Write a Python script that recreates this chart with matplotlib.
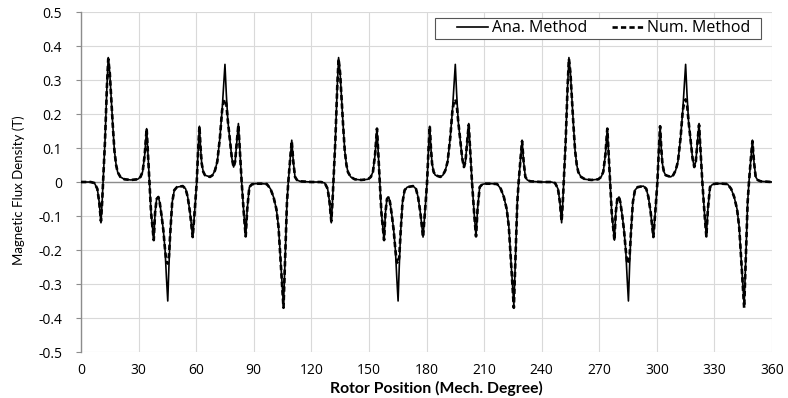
import matplotlib
matplotlib.use("Agg")
import matplotlib.pyplot as plt
from matplotlib.patches import Rectangle

# ---- data (one 120-degree period, repeated 3 times) ----
period_starts = [0, 120, 240]

period_deg = [0, 5, 7, 8.5, 9.5, 10.4, 11.0, 11.5, 12.5, 13.5, 14.2, 15.0, 16.0, 16.5,
              17.4, 18.3, 19.1, 20.5, 22.6, 26, 29.5, 31, 32.1, 33.2, 34.2, 34.9, 35.6,
              36.5, 37.9, 38.6, 39.4, 40.3, 41.0, 42.0, 42.9, 43.8, 44.5, 45.2, 45.8,
              46.5, 47.5, 48.6, 50, 53.0, 54.5, 55.6, 56.8, 58.2, 59.3, 60.3, 61.0, 61.7,
              62.3, 62.9, 63.7, 64.6, 67.2, 68.5, 69.8, 71.0, 72.4, 73.5, 74.3, 75.0,
              75.7, 76.5, 77.6, 78.6, 79.5, 80.3, 81.2, 82.0, 82.8, 83.7, 84.8, 85.8,
              86.6, 87.7, 89, 90.7, 94, 96.8, 98.7, 100.3, 101.8, 102.9, 104.2, 105.5,
              106.5, 107.3, 108.0, 109.0, 109.8, 110.6, 111.5, 112.5, 114.1, 120]

ana_period = [0.0, 0.0, -0.003, -0.02, -0.06, -0.12, -0.06, 0.0, 0.12, 0.28, 0.366, 0.32,
              0.22, 0.172, 0.093, 0.05, 0.029, 0.015, 0.008, 0.006, 0.008, 0.015, 0.03,
              0.08, 0.157, 0.08, 0.0, -0.09, -0.171, -0.09, -0.05, -0.044, -0.06, -0.10,
              -0.142, -0.20, -0.28, -0.35, -0.25, -0.15, -0.06, -0.024, -0.015, -0.012,
              -0.02, -0.044, -0.09, -0.162, -0.08, 0.0, 0.09, 0.164, 0.1, 0.054, 0.03,
              0.02, 0.015, 0.02, 0.034, 0.06, 0.132, 0.21, 0.28, 0.346, 0.26, 0.18,
              0.123, 0.07, 0.044, 0.06, 0.12, 0.172, 0.09, 0.0, -0.09, -0.16, -0.08,
              -0.015, -0.007, -0.005, -0.005, -0.006, -0.02, -0.044, -0.08, -0.132,
              -0.25, -0.362, -0.2, -0.06, 0.0, 0.07, 0.123, 0.06, 0.015, 0.006, 0.002, 0.0]

num_period = [0.0, 0.0, -0.003, -0.02, -0.06, -0.115, -0.06, 0.0, 0.12, 0.28, 0.362, 0.32,
              0.22, 0.172, 0.093, 0.05, 0.029, 0.015, 0.008, 0.006, 0.008, 0.015, 0.03,
              0.08, 0.157, 0.08, 0.0, -0.09, -0.171, -0.09, -0.05, -0.044, -0.06, -0.10,
              -0.142, -0.20, -0.235, -0.24, -0.22, -0.15, -0.06, -0.024, -0.015, -0.012,
              -0.02, -0.044, -0.09, -0.162, -0.08, 0.0, 0.09, 0.164, 0.1, 0.054, 0.03,
              0.02, 0.015, 0.02, 0.034, 0.06, 0.132, 0.21, 0.235, 0.243, 0.23, 0.18,
              0.123, 0.07, 0.044, 0.06, 0.12, 0.168, 0.09, 0.0, -0.09, -0.16, -0.08,
              -0.015, -0.007, -0.005, -0.005, -0.006, -0.02, -0.044, -0.08, -0.132,
              -0.25, -0.37, -0.2, -0.06, 0.0, 0.07, 0.12, 0.06, 0.015, 0.006, 0.002, 0.0]

series_names = ['Ana. Method', 'Num. Method']
x_ticks = list(range(0, 361, 30))
y_ticks = [-0.5, -0.4, -0.3, -0.2, -0.1, 0, 0.1, 0.2, 0.3, 0.4, 0.5]
y_tick_labels = ["-0.5", "-0.4", "-0.3", "-0.2", "-0.1", "0", "0.1", "0.2", "0.3", "0.4", "0.5"]

x_all, ana_all, num_all = [], [], []
for s in period_starts:
    x_all += [s + d for d in period_deg]
    ana_all += ana_period
    num_all += num_period

plt.rcParams['font.family'] = ['Open Sans', 'DejaVu Sans']

W, H = 788, 398
fig = plt.figure(figsize=(W/100, H/100), dpi=100)
ax = fig.add_axes([81/W, 1 - 352/H, (772-81)/W, (352-12)/H])

ax.plot(x_all, ana_all, color='black', lw=1.2, label=series_names[0], zorder=3)
ax.plot(x_all, num_all, color='black', lw=1.9, ls=(0, (2.0, 1.2)), label=series_names[1], zorder=4)

ax.set_xlim(0, 360)
ax.set_ylim(-0.5, 0.5)
ax.set_xticks(x_ticks)
ax.set_yticks(y_ticks)
ax.set_yticklabels(y_tick_labels)
ax.grid(True, color='#d9d9d9', lw=0.8, zorder=0)
ax.set_axisbelow(True)
ax.axhline(0, color='#8c8c8c', lw=1.0, zorder=2)

for sp in ['top', 'right', 'bottom']:
    ax.spines[sp].set_visible(False)
ax.spines['left'].set_color('#8c8c8c')
ax.spines['left'].set_linewidth(1.0)
ax.tick_params(axis='x', length=0, labelsize=10, pad=8, colors='#000000')
ax.tick_params(axis='y', length=3.6, color='#8c8c8c', labelsize=10, pad=10)

ax.set_xlabel('Rotor Position (Mech. Degree)', fontsize=11.3, fontweight='bold',
              family=['Lato', 'DejaVu Sans'])
ax.xaxis.set_label_coords((436.5-81)/691, -(388-352)/340, transform=ax.transAxes)
ax.xaxis.label.set_va('center')
ax.set_ylabel('Magnetic Flux Density (T)', fontsize=9.5, family=['Lato', 'DejaVu Sans'])
ax.yaxis.set_label_coords(-(81-19)/691, 0.5 + (182-190)/340)
ax.yaxis.label.set_va('center')

# legend frame and entries
frame = Rectangle((435/W, 1 - 39/H), (761-435)/W, (39-18)/H,
                  transform=fig.transFigure, facecolor='white',
                  edgecolor='#555555', lw=0.8, zorder=5, clip_on=False)
ax.add_patch(frame)
leg = ax.legend(loc='center left', bbox_to_anchor=(457/W, 1 - 28.5/H),
                bbox_transform=fig.transFigure, ncol=2, frameon=False, fontsize=11.5,
                handlelength=1.94, handletextpad=0.22, columnspacing=1.6,
                borderpad=0, borderaxespad=0)
leg.set_zorder(6)

fig.savefig('out.png', dpi=100)
